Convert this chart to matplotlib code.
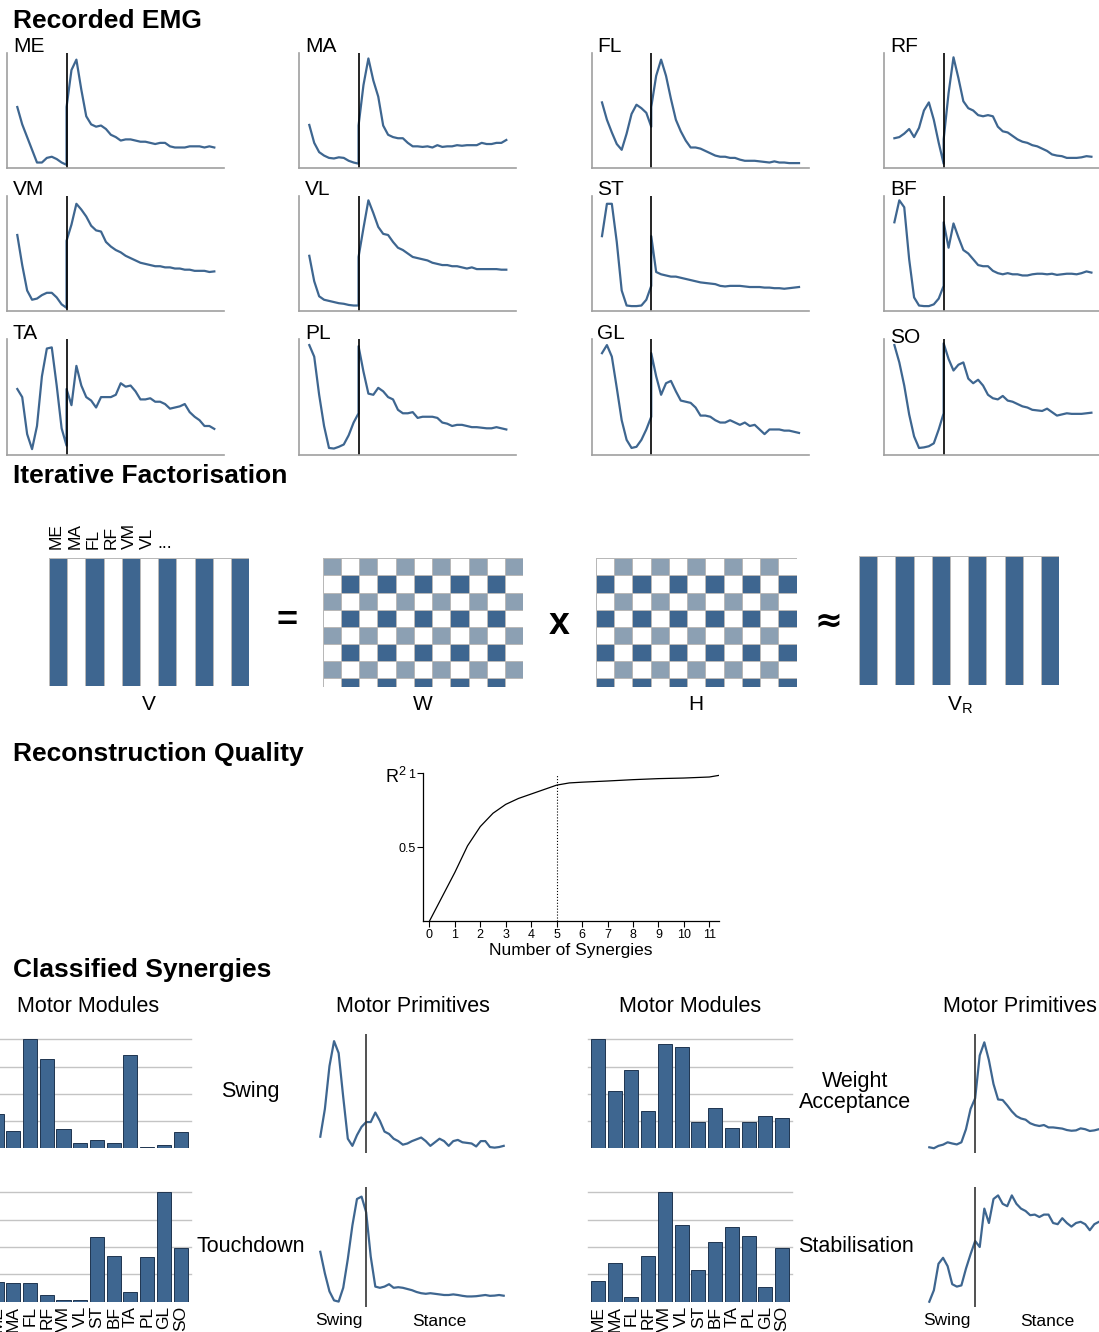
import numpy as np
import matplotlib
matplotlib.use('Agg')
import matplotlib.pyplot as plt
from matplotlib.colors import ListedColormap

plt.rcParams['font.family'] = ['Liberation Sans', 'DejaVu Sans']
plt.rcParams['mathtext.fontset'] = 'custom'
plt.rcParams['mathtext.rm'] = 'Liberation Sans'
plt.rcParams['mathtext.it'] = 'Liberation Sans'

# ---- data -------------------------------------------------------------
# gait cycle sample positions: swing 0..25, stance 25..100 (25 twice so a jump at touchdown is kept)
T = np.concatenate([np.arange(0, 25.1, 2.5), np.arange(25, 100.1, 2.5)])
touchdown_t = 25

muscles = ['ME', 'MA', 'FL', 'RF', 'VM', 'VL', 'ST', 'BF', 'TA', 'PL', 'GL', 'SO']

# recorded EMG envelopes (fraction of panel height), swing part then stance part
emg = {
    'ME': [0.53, 0.38, 0.27, 0.16, 0.05, 0.05, 0.09, 0.10, 0.08, 0.05, 0.03,
           0.53, 0.85, 0.94, 0.68, 0.45, 0.38, 0.36, 0.37, 0.34, 0.29, 0.27, 0.24, 0.25, 0.25, 0.24, 0.23,
           0.23, 0.22, 0.21, 0.22, 0.22, 0.19, 0.18, 0.18, 0.18, 0.19, 0.19, 0.19, 0.18, 0.19, 0.18],
    'MA': [0.375, 0.22, 0.14, 0.11, 0.09, 0.085, 0.095, 0.09, 0.065, 0.05, 0.04,
           0.37, 0.72, 0.95, 0.76, 0.62, 0.37, 0.29, 0.27, 0.26, 0.26, 0.22, 0.19, 0.19, 0.185, 0.19, 0.18,
           0.20, 0.185, 0.19, 0.19, 0.20, 0.195, 0.20, 0.20, 0.20, 0.22, 0.21, 0.21, 0.22, 0.22, 0.245],
    'FL': [0.57, 0.42, 0.31, 0.21, 0.16, 0.30, 0.47, 0.55, 0.52, 0.48, 0.36,
           0.53, 0.80, 0.94, 0.80, 0.60, 0.42, 0.32, 0.24, 0.18, 0.18, 0.17, 0.15, 0.13, 0.11, 0.10, 0.10,
           0.09, 0.09, 0.075, 0.065, 0.065, 0.065, 0.06, 0.055, 0.05, 0.06, 0.05, 0.05, 0.045, 0.045, 0.045],
    'RF': [0.26, 0.27, 0.30, 0.34, 0.27, 0.35, 0.50, 0.57, 0.42, 0.22, 0.04,
           0.25, 0.65, 0.96, 0.78, 0.58, 0.52, 0.50, 0.46, 0.45, 0.46, 0.45, 0.36, 0.32, 0.31, 0.28, 0.25,
           0.23, 0.22, 0.20, 0.19, 0.17, 0.15, 0.12, 0.11, 0.105, 0.09, 0.09, 0.09, 0.095, 0.105, 0.10],
    'VM': [0.66, 0.40, 0.18, 0.10, 0.11, 0.14, 0.16, 0.16, 0.12, 0.06, 0.03,
           0.61, 0.75, 0.93, 0.88, 0.82, 0.74, 0.70, 0.69, 0.60, 0.56, 0.53, 0.51, 0.48, 0.46, 0.44, 0.42,
           0.41, 0.40, 0.39, 0.39, 0.38, 0.38, 0.37, 0.37, 0.36, 0.36, 0.35, 0.35, 0.35, 0.34, 0.345],
    'VL': [0.48, 0.26, 0.13, 0.10, 0.09, 0.08, 0.07, 0.065, 0.055, 0.05, 0.05,
           0.47, 0.72, 0.96, 0.85, 0.73, 0.67, 0.66, 0.60, 0.55, 0.53, 0.50, 0.47, 0.46, 0.45, 0.44, 0.42,
           0.41, 0.40, 0.40, 0.39, 0.39, 0.38, 0.37, 0.38, 0.365, 0.365, 0.365, 0.365, 0.365, 0.36, 0.36],
    'ST': [0.65, 0.93, 0.93, 0.60, 0.18, 0.05, 0.045, 0.045, 0.05, 0.10, 0.22,
           0.65, 0.34, 0.32, 0.31, 0.30, 0.30, 0.29, 0.28, 0.27, 0.26, 0.25, 0.245, 0.24, 0.235, 0.22, 0.215,
           0.22, 0.22, 0.22, 0.215, 0.21, 0.21, 0.21, 0.205, 0.205, 0.20, 0.20, 0.195, 0.20, 0.205, 0.21],
    'BF': [0.77, 0.96, 0.90, 0.45, 0.12, 0.05, 0.045, 0.045, 0.06, 0.11, 0.22,
           0.77, 0.55, 0.76, 0.64, 0.53, 0.50, 0.45, 0.40, 0.39, 0.39, 0.35, 0.33, 0.32, 0.33, 0.32, 0.32,
           0.31, 0.31, 0.32, 0.325, 0.325, 0.32, 0.325, 0.315, 0.32, 0.325, 0.325, 0.32, 0.33, 0.345, 0.335],
    'TA': [0.57, 0.50, 0.18, 0.05, 0.25, 0.68, 0.92, 0.93, 0.60, 0.23, 0.08,
           0.57, 0.43, 0.77, 0.60, 0.50, 0.47, 0.41, 0.50, 0.50, 0.50, 0.52, 0.62, 0.59, 0.60, 0.55, 0.48,
           0.48, 0.49, 0.46, 0.46, 0.44, 0.40, 0.41, 0.42, 0.44, 0.37, 0.33, 0.30, 0.25, 0.25, 0.225],
    'PL': [0.95, 0.85, 0.52, 0.25, 0.06, 0.055, 0.07, 0.09, 0.17, 0.28, 0.36,
           0.94, 0.72, 0.53, 0.52, 0.58, 0.55, 0.50, 0.48, 0.39, 0.36, 0.36, 0.37, 0.32, 0.33, 0.33, 0.33,
           0.32, 0.28, 0.27, 0.25, 0.26, 0.26, 0.25, 0.24, 0.24, 0.235, 0.23, 0.23, 0.24, 0.23, 0.22],
    'GL': [0.88, 0.95, 0.85, 0.58, 0.30, 0.13, 0.06, 0.07, 0.13, 0.22, 0.33,
           0.88, 0.68, 0.52, 0.62, 0.64, 0.55, 0.47, 0.46, 0.45, 0.41, 0.34, 0.34, 0.33, 0.30, 0.28, 0.28,
           0.30, 0.28, 0.26, 0.28, 0.25, 0.26, 0.22, 0.18, 0.22, 0.22, 0.22, 0.21, 0.21, 0.20, 0.19],
    'SO': [0.95, 0.80, 0.60, 0.35, 0.16, 0.06, 0.065, 0.075, 0.10, 0.22, 0.36,
           0.965, 0.83, 0.73, 0.78, 0.80, 0.66, 0.62, 0.65, 0.60, 0.52, 0.49, 0.48, 0.51, 0.47, 0.46, 0.44,
           0.42, 0.41, 0.39, 0.385, 0.38, 0.40, 0.37, 0.34, 0.35, 0.36, 0.355, 0.355, 0.355, 0.36, 0.365],
}

# factorisation schematic (0 white, 1 light, 2 dark)
V_stripes = [[2, 0, 2, 0, 2, 0, 2, 0, 2, 0, 2]]
W_cells = [[1, 0, 1, 0, 1, 0, 1, 0, 1, 0, 1],
           [0, 2, 0, 2, 0, 2, 0, 2, 0, 2, 0],
           [1, 0, 1, 0, 1, 0, 1, 0, 1, 0, 1],
           [0, 2, 0, 2, 0, 2, 0, 2, 0, 2, 0],
           [1, 0, 1, 0, 1, 0, 1, 0, 1, 0, 1],
           [0, 2, 0, 2, 0, 2, 0, 2, 0, 2, 0],
           [1, 0, 1, 0, 1, 0, 1, 0, 1, 0, 1],
           [0, 2, 0, 2, 0, 2, 0, 2, 0, 2, 0]]
H_cells = [[0, 1, 0, 1, 0, 1, 0, 1, 0, 1, 0],
           [2, 0, 2, 0, 2, 0, 2, 0, 2, 0, 2],
           [0, 1, 0, 1, 0, 1, 0, 1, 0, 1, 0],
           [2, 0, 2, 0, 2, 0, 2, 0, 2, 0, 2],
           [0, 1, 0, 1, 0, 1, 0, 1, 0, 1, 0],
           [2, 0, 2, 0, 2, 0, 2, 0, 2, 0, 2],
           [0, 1, 0, 1, 0, 1, 0, 1, 0, 1, 0],
           [2, 0, 2, 0, 2, 0, 2, 0, 2, 0, 2]]

# reconstruction quality
n_synergies = [0, 0.5, 1, 1.5, 2, 2.5, 3, 3.5, 4, 4.5, 5, 5.5, 6, 7, 8, 9, 10, 11, 11.38]
r2 = [0.0, 0.165, 0.33, 0.51, 0.64, 0.73, 0.79, 0.83, 0.86, 0.89, 0.92, 0.935, 0.94,
      0.948, 0.957, 0.964, 0.968, 0.975, 0.986]
n_chosen = 5

# classified synergies: motor modules (weights)
swing_w = [0.315, 0.16, 1.0, 0.815, 0.175, 0.05, 0.08, 0.045, 0.855, 0.01, 0.03, 0.145]
touchdown_w = [0.18, 0.17, 0.175, 0.065, 0.015, 0.015, 0.595, 0.42, 0.09, 0.405, 1.0, 0.495]
weight_w = [1.0, 0.53, 0.715, 0.34, 0.955, 0.93, 0.245, 0.37, 0.185, 0.245, 0.295, 0.28]
stab_w = [0.19, 0.35, 0.045, 0.42, 1.0, 0.70, 0.29, 0.55, 0.68, 0.60, 0.135, 0.49]

# motor primitives
swing_p = [0.137, 0.37, 0.73, 0.94, 0.84, 0.47, 0.12, 0.06, 0.15, 0.22, 0.26,
           0.26, 0.26, 0.34, 0.27, 0.18, 0.16, 0.12, 0.10, 0.07, 0.08, 0.10, 0.115, 0.13, 0.10, 0.06, 0.09,
           0.12, 0.10, 0.06, 0.10, 0.11, 0.09, 0.085, 0.08, 0.055, 0.10, 0.10, 0.05, 0.045, 0.05, 0.06]
touchdown_p = [0.46, 0.28, 0.13, 0.055, 0.045, 0.16, 0.40, 0.68, 0.90, 0.92, 0.79,
               0.79, 0.42, 0.17, 0.16, 0.17, 0.19, 0.16, 0.165, 0.16, 0.15, 0.14, 0.125, 0.115, 0.11, 0.115, 0.11,
               0.105, 0.10, 0.10, 0.105, 0.10, 0.093, 0.088, 0.088, 0.09, 0.095, 0.10, 0.093, 0.095, 0.10, 0.094]
weight_p = [0.048, 0.04, 0.06, 0.07, 0.09, 0.08, 0.072, 0.09, 0.20, 0.37, 0.46,
            0.46, 0.82, 0.93, 0.78, 0.58, 0.45, 0.445, 0.40, 0.35, 0.31, 0.29, 0.28, 0.25, 0.235, 0.227, 0.235,
            0.215, 0.215, 0.21, 0.205, 0.193, 0.187, 0.19, 0.207, 0.20, 0.185, 0.19, 0.20, 0.195, 0.19, 0.19]
stab_p = [0.044, 0.14, 0.36, 0.41, 0.34, 0.19, 0.17, 0.18, 0.32, 0.44, 0.55,
          0.55, 0.50, 0.82, 0.70, 0.90, 0.93, 0.86, 0.84, 0.93, 0.86, 0.82, 0.80, 0.765, 0.77, 0.75, 0.77,
          0.77, 0.70, 0.69, 0.74, 0.70, 0.67, 0.70, 0.71, 0.69, 0.64, 0.69, 0.71, 0.72, 0.70, 0.70]

# ---- styling / layout --------------------------------------------------
BLUE = '#3e6690'
LIGHT = '#8ca0b3'
cmap3 = ListedColormap(['white', LIGHT, BLUE])
T_LIM = (-5.07, 105.07)

W_PX, H_PX = 1099, 1332
fig = plt.figure(figsize=(W_PX / 100, H_PX / 100), dpi=100)


def px_axes(x0, y0, x1, y1):
    # rectangle given in pixels from the top-left corner
    return fig.add_axes([x0 / W_PX, 1 - y1 / H_PX, (x1 - x0) / W_PX, (y1 - y0) / H_PX])


def px_text(x, y, s, **kw):
    return fig.text(x / W_PX, 1 - y / H_PX, s, **kw)


def title(y, s):
    px_text(13, y, s, fontsize=19, fontweight='bold', va='baseline')


# ---- Recorded EMG ------------------------------------------------------
title(27.5, 'Recorded EMG')
col_left = [7.3, 299.3, 592, 884.4]
row_top = [52.7, 195.7, 339.3]
for k, m in enumerate(muscles):
    r, c = divmod(k, 4)
    x0, y0 = col_left[c], row_top[r]
    ax = px_axes(x0, y0, x0 + 217, y0 + 115.6)
    ax.plot(T, emg[m], color=BLUE, lw=1.6)
    ax.axvline(touchdown_t, color='black', lw=1.2)
    ax.set_xlim(*T_LIM)
    ax.set_ylim(0, 1)
    for s in ['top', 'right']:
        ax.spines[s].set_visible(False)
    for s in ['left', 'bottom']:
        ax.spines[s].set_color('#a0a0a0')
        ax.spines[s].set_linewidth(1.2)
    ax.set_xticks([])
    ax.set_yticks([])
    dy = 4 if m == 'SO' else 0
    px_text(x0 + 5.5, y0 - 0.5 + dy, m, fontsize=15, va='baseline')

# ---- Iterative Factorisation -------------------------------------------
title(483, 'Iterative Factorisation')


def matrix(x0, y0, x1, y1, cells, rows):
    ax = px_axes(x0, y0, x1, y1)
    ax.pcolormesh(np.array(cells), cmap=cmap3, vmin=0, vmax=2,
                  edgecolors='#b8b8b8', linewidth=0.7)
    ax.set_xlim(0, 11)
    ax.set_ylim(rows, 0)
    ax.axis('off')
    return ax


matrix(49, 558.3, 249.3, 685.7, V_stripes, 1)
matrix(322.7, 558.3, 523.3, 686.7, W_cells, 7.5)
matrix(596, 558.3, 796.6, 686.7, H_cells, 7.5)
matrix(859, 556, 1059.3, 685, V_stripes, 1)

for i, m in enumerate(muscles[:6]):
    px_text(49 + 18.2 * (i + 0.5) - 1.5, 549, m, rotation=90, ha='center', va='bottom', fontsize=12.5)
px_text(157, 548, '...', fontsize=13, va='baseline')

px_text(149.3, 705, 'V', fontsize=15, ha='center', va='center')
px_text(423, 705, 'W', fontsize=15, ha='center', va='center')
px_text(696.3, 705, 'H', fontsize=15, ha='center', va='center')
px_text(960, 705, r'V$_{\mathrm{R}}$', fontsize=15, ha='center', va='center')

px_text(287, 622, '=', fontsize=26, fontweight='bold', ha='center', va='center')
px_text(559, 624, 'x', fontsize=27, fontweight='bold', ha='center', va='center')
px_text(828, 621, '≈', fontsize=24, fontweight='bold', ha='center', va='center',
        family=['DejaVu Sans'])

# ---- Reconstruction Quality --------------------------------------------
title(761, 'Reconstruction Quality')
ax = px_axes(423, 773.3, 719, 921.3)
ax.plot(n_synergies, r2, color='black', lw=0.9)
ax.axvline(n_chosen, ymax=0.99, color='black', ls=':', lw=0.8)
ax.set_xlim(-0.25, 11.38)
ax.set_ylim(0, 1)
for s in ['top', 'right']:
    ax.spines[s].set_visible(False)
for s in ['left', 'bottom']:
    ax.spines[s].set_linewidth(0.9)
ax.set_xticks(range(12))
ax.set_yticks([0.5, 1])
ax.set_yticklabels(['0.5', '1'])
ax.tick_params(labelsize=9, length=4, width=0.8, pad=1.5)
px_text(407, 777, r'R$^{2}$', fontsize=13, ha='right', va='center')
px_text(570.5, 950, 'Number of Synergies', fontsize=12.5, ha='center', va='center')

# ---- Classified Synergies ----------------------------------------------
title(977, 'Classified Synergies')
for x, s in [(88, 'Motor Modules'), (412.5, 'Motor Primitives'),
             (690, 'Motor Modules'), (1020, 'Motor Primitives')]:
    px_text(x, 1007, s, fontsize=15.5, ha='center', va='center')

bar_specs = [(-13.4, 1039.3, 1148.3, swing_w, False),
             (-13.4, 1192.3, 1301.7, touchdown_w, True),
             (588, 1039.3, 1148.3, weight_w, False),
             (588, 1192.3, 1301.7, stab_w, True)]
for x0, y0, y1, vals, labels in bar_specs:
    ax = px_axes(x0, y0, x0 + 204, y1)
    ax.bar(range(12), vals, width=0.84, color=BLUE, edgecolor='#1f3550', lw=0.7, zorder=3)
    for g in [0.25, 0.5, 0.75, 1.0]:
        ax.axhline(g, color='#c4c4c4', lw=1.0, zorder=1, clip_on=False)
    ax.set_xlim(-0.6, 11.6)
    ax.set_ylim(0, 1)
    for s in ax.spines.values():
        s.set_visible(False)
    ax.set_yticks([])
    if labels:
        ax.set_xticks(range(12))
        ax.set_xticklabels(muscles, rotation=90, fontsize=12.5)
        ax.tick_params(length=0, pad=3)
    else:
        ax.set_xticks([])

prim_specs = [(311, 1034, 1153, swing_p), (311, 1187, 1307, touchdown_p),
              (920, 1034, 1153, weight_p), (920, 1187, 1307, stab_p)]
for x0, y0, y1, vals in prim_specs:
    ax = px_axes(x0, y0, x0 + 202, y1)
    ax.plot(T, vals, color=BLUE, lw=1.6)
    ax.axvline(touchdown_t, color='#333333', lw=1.2)
    ax.set_xlim(*T_LIM)
    ax.set_ylim(0, 1)
    ax.axis('off')

px_text(250.5, 1092, 'Swing', fontsize=15.5, ha='center', va='center')
px_text(251, 1247, 'Touchdown', fontsize=15.5, ha='center', va='center')
px_text(855, 1092, 'Weight\nAcceptance', fontsize=15.5, ha='center', va='center', linespacing=1.05)
px_text(855.5, 1247, 'Stabilisation', fontsize=15.5, ha='center', va='center')

for x, s in [(339, 'Swing'), (439.5, 'Stance'), (947, 'Swing'), (1047, 'Stance')]:
    px_text(x, 1321, s, fontsize=12.5, ha='center', va='center')

fig.savefig('out.png', dpi=100)
